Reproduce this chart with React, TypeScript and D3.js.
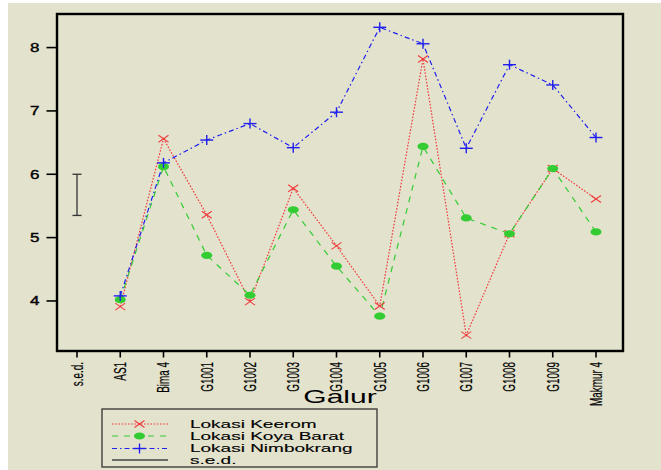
import React from "react";
import * as d3 from "d3";

const categories = ["s.e.d.", "AS1", "Bima 4", "G1001", "G1002", "G1003", "G1004", "G1005", "G1006", "G1007", "G1008", "G1009", "Makmur 4"];
const genotypes = ["AS1", "Bima 4", "G1001", "G1002", "G1003", "G1004", "G1005", "G1006", "G1007", "G1008", "G1009", "Makmur 4"];
const keerom = [3.91, 6.56, 5.36, 3.99, 5.78, 4.87, 3.92, 7.82, 3.46, 5.06, 6.09, 5.61];
const koyaBarat = [4.02, 6.12, 4.72, 4.09, 5.44, 4.55, 3.76, 6.44, 5.31, 5.06, 6.09, 5.09];
const nimbokrang = [4.08, 6.18, 6.54, 6.80, 6.42, 6.98, 8.32, 8.06, 6.41, 7.73, 7.41, 6.58];
const sedCenter = 5.675;
const sedValue = 0.65;
const yTicks = [4, 5, 6, 7, 8];
const legendLabels = ["Lokasi Keerom", "Lokasi Koya Barat", "Lokasi Nimbokrang", "s.e.d."];

const W = 661, H = 470;
const plot = { left: 57, right: 623, top: 14, bottom: 351 };
const BG = "#e3e2cd";
const RED = "#f03c3c";
const GREEN = "#33cc33";
const BLUE = "#2020ee";
const FONT = "'Liberation Sans', Arial, sans-serif";

const x = d3.scalePoint<string>().domain(categories).range([77, 596]);
const y = d3.scaleLinear().domain([3.21, 8.53]).range([plot.bottom, plot.top]);

type Series = { name: string; values: number[]; color: string; dash: string; marker: "x" | "dot" | "plus" };
const series: Series[] = [
  { name: legendLabels[0], values: keerom, color: RED, dash: "1.6,1.6", marker: "x" },
  { name: legendLabels[1], values: koyaBarat, color: GREEN, dash: "6,6", marker: "dot" },
  { name: legendLabels[2], values: nimbokrang, color: BLUE, dash: "5,3,1.5,3", marker: "plus" },
];

function Marker({ kind, cx, cy, color }: { kind: string; cx: number; cy: number; color: string }) {
  if (kind === "x") {
    return (
      <g stroke={color} strokeWidth={1.1}>
        <line x1={cx - 5} y1={cy - 3.5} x2={cx + 5} y2={cy + 3.5} />
        <line x1={cx - 5} y1={cy + 3.5} x2={cx + 5} y2={cy - 3.5} />
      </g>
    );
  }
  if (kind === "dot") {
    return <ellipse cx={cx} cy={cy} rx={5.5} ry={3.6} fill={color} />;
  }
  return (
    <g stroke={color} strokeWidth={1.4}>
      <line x1={cx - 6.5} y1={cy} x2={cx + 6.5} y2={cy} />
      <line x1={cx} y1={cy - 5} x2={cx} y2={cy + 5} />
    </g>
  );
}

export default function App() {
  const line = d3
    .line<number>()
    .x((_, i) => x(genotypes[i]) as number)
    .y((v) => y(v));

  const sx = x("s.e.d.") as number;
  const sedTop = y(sedCenter + sedValue / 2);
  const sedBot = y(sedCenter - sedValue / 2);

  const legendRows = [424, 436, 448.5, 460];

  return (
    <svg width={W} height={H} style={{ position: "absolute", left: 0, top: 0, display: "block" }} fontFamily={FONT}>
      <rect x={0} y={0} width={W} height={H} fill="#ffffff" />
      <rect x={8} y={3} width={W - 8} height={H - 3} fill={BG} />

      {/* series lines */}
      {series.map((s) => (
        <path key={s.name} d={line(s.values) || ""} fill="none" stroke={s.color} strokeWidth={1.2} strokeDasharray={s.dash} />
      ))}
      {series.map((s) =>
        s.values.map((v, i) => (
          <Marker key={s.name + i} kind={s.marker} cx={x(genotypes[i]) as number} cy={y(v)} color={s.color} />
        ))
      )}

      {/* s.e.d. bar */}
      <g stroke="#333" strokeWidth={1.3}>
        <line x1={sx} y1={sedTop} x2={sx} y2={sedBot} />
        <line x1={sx - 4.5} y1={sedTop} x2={sx + 4.5} y2={sedTop} />
        <line x1={sx - 4.5} y1={sedBot} x2={sx + 4.5} y2={sedBot} />
      </g>

      {/* frame */}
      <rect x={plot.left} y={plot.top} width={plot.right - plot.left} height={plot.bottom - plot.top} fill="none" stroke="#000" strokeWidth={2.4} />

      {/* y axis ticks */}
      {yTicks.map((t) => (
        <g key={t}>
          <line x1={46.5} x2={plot.left} y1={y(t)} y2={y(t)} stroke="#000" strokeWidth={1.6} />
          <text transform={`translate(39.5,${y(t)}) scale(1,0.7)`} dy="0.36em" textAnchor="end" fontSize={17} fill="#000" stroke="#000" strokeWidth={0.5}>
            {t}
          </text>
        </g>
      ))}

      {/* x axis ticks */}
      {categories.map((c) => {
        const cx = x(c) as number;
        return (
          <g key={c}>
            <line x1={cx} x2={cx} y1={plot.bottom} y2={357.5} stroke="#000" strokeWidth={1.6} />
            <text transform={`translate(${cx},362) rotate(-90) scale(0.6,1)`} dy="0.36em" textAnchor="end" fontSize={16.5} fill="#000" stroke="#000" strokeWidth={0.2}>
              {c}
            </text>
          </g>
        );
      })}

      {/* x title */}
      <text transform="translate(340,403) scale(1,0.64)" textAnchor="middle" fontSize={30} fill="#000">
        Galur
      </text>

      {/* legend */}
      <rect x={102} y={409} width={275} height={58} fill="none" stroke="#333" strokeWidth={1.3} />
      {series.map((s, i) => (
        <g key={s.name}>
          <line x1={112} x2={168} y1={legendRows[i]} y2={legendRows[i]} stroke={s.color} strokeWidth={1.2} strokeDasharray={s.dash} />
          <Marker kind={s.marker} cx={139.5} cy={legendRows[i]} color={s.color} />
        </g>
      ))}
      <line x1={112} x2={168} y1={legendRows[3]} y2={legendRows[3]} stroke="#444" strokeWidth={1.3} />
      {legendLabels.map((l, i) => (
        <text key={l} transform={`translate(190,${legendRows[i] + 3.8}) scale(1,0.6)`} fontSize={19} fill="#000" stroke="#000" strokeWidth={0.2}>
          {l}
        </text>
      ))}
    </svg>
  );
}
